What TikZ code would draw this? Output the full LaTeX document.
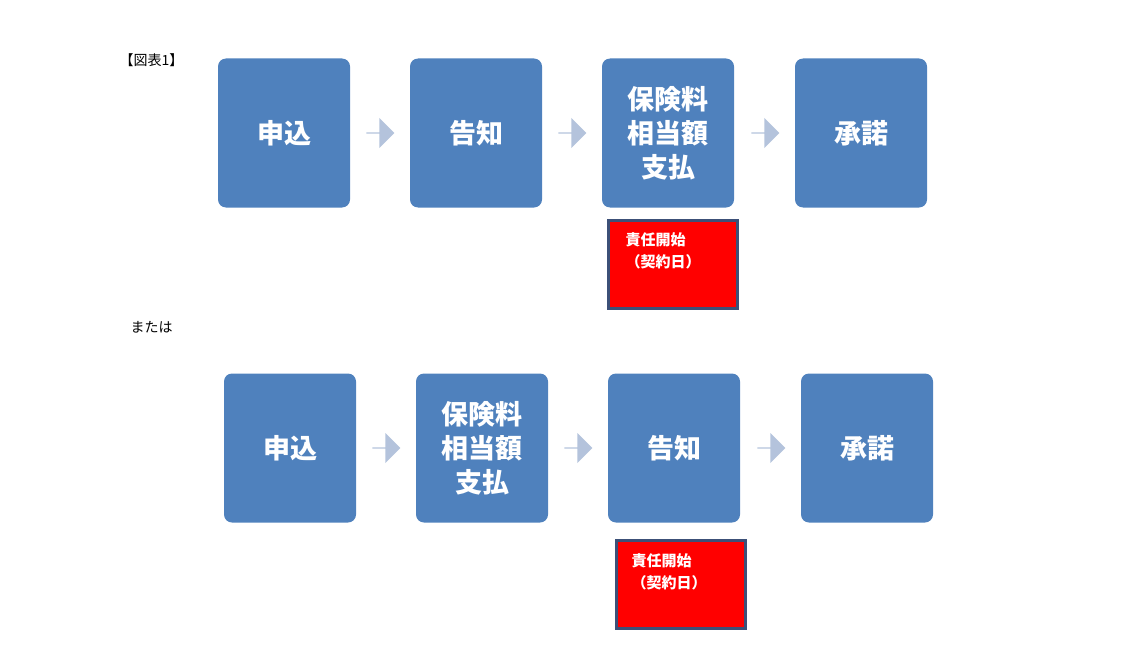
\documentclass[tikz,border=0pt]{standalone}
\usepackage{fontspec}
\setmainfont{Noto Sans CJK JP}
\usetikzlibrary{shapes.arrows}

\begin{document}
\begin{tikzpicture}[x=1pt,y=-1pt,
  stepbox/.style={fill={rgb,255:red,79;green,129;blue,189}, rounded corners=8pt,
    minimum width=132pt, minimum height=149pt, text=white, align=center,
    font=\fontsize{27}{34}\selectfont\bfseries, inner sep=0pt},
  flow/.style={single arrow, fill={rgb,255:red,180;green,195;blue,220},
    minimum width=30pt, minimum height=28pt, single arrow head extend=4pt, inner sep=0pt},
  startbox/.style={fill=red, draw={rgb,255:red,60;green,80;blue,120}, line width=3pt,
    minimum width=129pt, minimum height=88pt, text=white, align=left,
    font=\fontsize{15}{22}\selectfont\bfseries, inner sep=0pt}]
  \useasboundingbox (0,0) rectangle (1129,658);

  % first row
  \node[anchor=west, font=\fontsize{14}{16}\selectfont] (title) at (116,60) {【図表1】};
  \node[stepbox] (a1) at (284,133) {申込};
  \node[stepbox] (a2) at (476,133) {告知};
  \node[stepbox] (a3) at (668,133) {保険料\\相当額\\支払};
  \node[stepbox] (a4) at (861,133) {承諾};
  \node[flow] (f1) at (380,133) {};
  \node[flow] (f2) at (572,133) {};
  \node[flow] (f3) at (765,133) {};
  \node[startbox] (s1) at (673,264) {};
  \node[startbox, minimum width=0pt, minimum height=0pt, fill=none, draw=none, anchor=north west] (t1) at (624,231) {責任開始\\（契約日）};

  % second row
  \node[anchor=west, font=\fontsize{14}{16}\selectfont] (or) at (127,327) {または};
  \node[stepbox] (b1) at (290,448) {申込};
  \node[stepbox] (b2) at (482,448) {保険料\\相当額\\支払};
  \node[stepbox] (b3) at (674,448) {告知};
  \node[stepbox] (b4) at (867,448) {承諾};
  \node[flow] (g1) at (386,448) {};
  \node[flow] (g2) at (578,448) {};
  \node[flow] (g3) at (771,448) {};
  \node[startbox] (s2) at (681,584) {};
  \node[startbox, minimum width=0pt, minimum height=0pt, fill=none, draw=none, anchor=north west] (t2) at (630,552) {責任開始\\（契約日）};
\end{tikzpicture}
\end{document}
